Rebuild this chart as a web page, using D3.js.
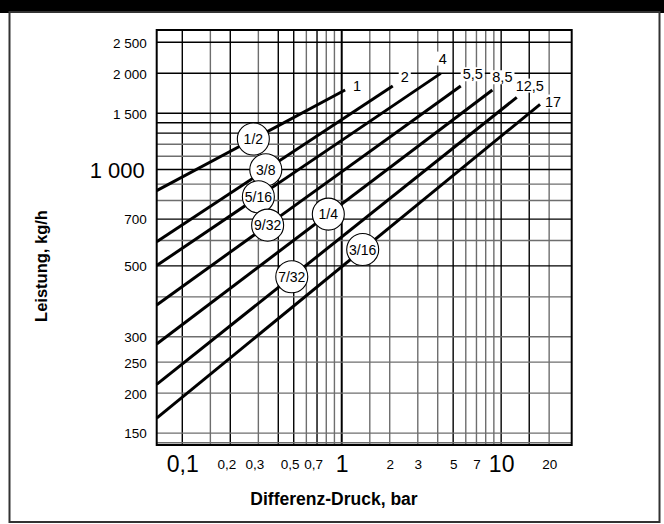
<!DOCTYPE html>
<html>
<head>
<meta charset="utf-8">
<script src="https://cdn.jsdelivr.net/npm/d3@7"></script>
<style>
  html, body { margin: 0; padding: 0; background: #fff; }
  svg { display: block; }
  .narrow { font-family: "Liberation Sans Narrow", "Arial Narrow", "Liberation Sans", Arial, sans-serif; }
  .reg { font-family: "Liberation Sans", Arial, Helvetica, sans-serif; }
</style>
</head>
<body>
<svg id="chart" width="664" height="524"></svg>
<script>
// ---------------- data ----------------
const xDomain = [0.0691, 27.7];          // Differenz-Druck, bar (log)
const yDomain = [137.7, 2730];           // Leistung, kg/h (log)

const xGrid = [0.1, 0.15, 0.2, 0.3, 0.4, 0.5, 0.6, 0.7, 0.8, 0.9, 1, 1.5, 2, 3, 4, 5, 6, 7, 8, 9, 10, 15, 20];
const xGridDark = [0.1, 0.2, 0.4, 0.5, 0.7, 1, 5, 10, 15];
const yGrid = [140, 150, 200, 250, 300, 400, 500, 600, 700, 800, 900, 1000, 1100, 1200, 1300, 1400, 1500, 2000, 2500];
const yGridDark = [500, 700, 1000, 1300, 1400, 1500, 2000, 2500];

const xTicks = [0.1, 0.2, 0.3, 0.5, 0.7, 1, 2, 3, 5, 7, 10, 20];
const xTicksLarge = [0.1, 1, 10];
const yTicks = [150, 200, 250, 300, 500, 700, 1000, 1500, 2000, 2500];
const yTicksLarge = [1000];

const lineLabels = ["1", "2", "4", "5,5", "8,5", "12,5", "17"];
const startKg    = [859, 595, 501, 377, 285, 213, 167];   // at left edge of diagram
const endP       = [1.05, 2.09, 4.18, 5.58, 8.81, 12.53, 17.54];
const endKg      = [1772, 1824, 1998, 1824, 1772, 1681, 1599];

const sizeLabels = ["1/2", "3/8", "5/16", "9/32", "1/4", "7/32", "3/16"];
const sizeAtP    = [0.279, 0.334, 0.300, 0.343, 0.824, 0.486, 1.354];

// layout-only offsets for end labels (px)
const labelOffset = [[12, -4], [12, -9], [2, -15], [12, -12], [10, -13], [13, -12], [13, -3]];

// ---------------- layout ----------------
const svg = d3.select("#chart");
const W = 664, H = 524;
const plot = { left: 156.7, top: 30, width: 415, height: 415 };

svg.append("rect").attr("x", 0).attr("y", 0).attr("width", W).attr("height", 13).attr("fill", "#000");
svg.append("rect").attr("x", 9.5).attr("y", 12).attr("width", 650).attr("height", 510)
  .attr("fill", "none").attr("stroke", "#333").attr("stroke-width", 2);

const x = d3.scaleLog().domain(xDomain).range([0, plot.width]);
const y = d3.scaleLog().domain(yDomain).range([plot.height, 0]);

const g = svg.append("g").attr("transform", `translate(${plot.left},${plot.top})`);

// grid
const gridG = g.append("g");
gridG.selectAll("line.vx").data(xGrid).join("line")
  .attr("x1", d => x(d)).attr("x2", d => x(d)).attr("y1", 0).attr("y2", plot.height)
  .attr("stroke", d => xGridDark.includes(d) ? "#000" : "#6e6e6e")
  .attr("stroke-width", d => d === 1 ? 2 : 1.4);
gridG.selectAll("line.hy").data(yGrid).join("line")
  .attr("y1", d => y(d)).attr("y2", d => y(d)).attr("x1", 0).attr("x2", plot.width)
  .attr("stroke", d => yGridDark.includes(d) ? "#000" : "#6e6e6e")
  .attr("stroke-width", 1.4);

// frame
g.append("rect").attr("x", 0).attr("y", 0).attr("width", plot.width).attr("height", plot.height)
  .attr("fill", "none").attr("stroke", "#000").attr("stroke-width", 2);

// axes (labels only)
const fmtX = d => String(d).replace(".", ",");
const fmtY = d => d >= 1000 ? String(d).replace(/(\d)(\d{3})$/, "$1 $2") : String(d);

const xAxis = g.append("g").attr("transform", `translate(0,${plot.height})`)
  .call(d3.axisBottom(x).tickValues(xTicks).tickSize(0).tickPadding(0).tickFormat(fmtX));
xAxis.select(".domain").remove();
xAxis.selectAll("text")
  .attr("class", "narrow")
  .attr("fill", "#000")
  .attr("x", d => (d < 1 && !xTicksLarge.includes(d)) ? -4 : 0)
  .attr("y", d => xTicksLarge.includes(d) ? 27 : 24)
  .attr("dy", 0)
  .style("font-size", d => xTicksLarge.includes(d) ? "23px" : "13.5px");

const yAxis = g.append("g")
  .call(d3.axisLeft(y).tickValues(yTicks).tickSize(0).tickPadding(10).tickFormat(fmtY));
yAxis.select(".domain").remove();
yAxis.selectAll("text")
  .attr("class", "narrow")
  .attr("fill", "#000")
  .attr("dy", "0.36em")
  .style("font-size", d => yTicksLarge.includes(d) ? "22px" : "13.5px");
yAxis.selectAll("text").filter(d => yTicksLarge.includes(d)).attr("x", -12);

// series lines
const lineGen = d3.line().x(d => x(d[0])).y(d => y(d[1]));
const seriesData = lineLabels.map((lab, i) => {
  const p0 = xDomain[0], k0 = startKg[i], p1 = endP[i], k1 = endKg[i];
  const slope = Math.log(k1 / k0) / Math.log(p1 / p0);
  return {
    label: lab,
    pts: [[p0, k0], [p1, k1]],
    at: p => k0 * Math.pow(p / p0, slope),
    size: sizeLabels[i], sizeP: sizeAtP[i], off: labelOffset[i]
  };
});

g.append("g").selectAll("path").data(seriesData).join("path")
  .attr("d", d => lineGen(d.pts))
  .attr("fill", "none").attr("stroke", "#000").attr("stroke-width", 3);

// end labels with white background
const endG = g.append("g").selectAll("g").data(seriesData).join("g")
  .attr("transform", d => `translate(${x(d.pts[1][0]) + d.off[0]},${y(d.pts[1][1]) + d.off[1]})`);
endG.append("text")
  .attr("class", "reg")
  .attr("text-anchor", "middle").attr("dy", "0.36em")
  .style("font-size", "14.5px").attr("fill", "#000")
  .text(d => d.label);
endG.each(function() {
  const t = d3.select(this).select("text");
  const b = t.node().getBBox();
  d3.select(this).insert("rect", "text")
    .attr("x", b.x - 2).attr("y", b.y + 1).attr("width", b.width + 4).attr("height", b.height - 2)
    .attr("fill", "#fff");
});

// size circles
const circG = g.append("g").selectAll("g").data(seriesData).join("g")
  .attr("transform", d => `translate(${x(d.sizeP)},${y(d.at(d.sizeP))})`);
circG.append("circle").attr("r", 16).attr("fill", "#fff").attr("stroke", "#000").attr("stroke-width", 1.1);
circG.append("text")
  .attr("class", "narrow")
  .attr("text-anchor", "middle").attr("dy", "0.36em")
  .style("font-size", "14px").attr("fill", "#000")
  .text(d => d.size);

// axis titles
svg.append("text")
  .attr("class", "reg")
  .attr("x", 334).attr("y", 499)
  .attr("text-anchor", "middle").attr("dy", "0.36em")
  .style("font-size", "17.5px").style("font-weight", "bold")
  .text("Differenz-Druck, bar");

svg.append("text")
  .attr("class", "reg")
  .attr("transform", `translate(41,266) rotate(-90)`)
  .attr("text-anchor", "middle").attr("dy", "0.36em")
  .style("font-size", "16.5px").style("font-weight", "bold")
  .text("Leistung, kg/h");
</script>
</body>
</html>
